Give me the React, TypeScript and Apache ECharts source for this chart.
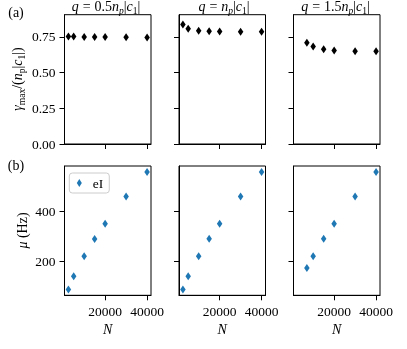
import React, { useEffect, useRef } from "react";
import * as echarts from "echarts";

// ---- data ----
const nA = [2500, 5000, 10000, 15000, 20000, 30000, 40000];
const nB = [2500, 5000, 10000, 15000, 20000, 30000, 40000];
const nC = [7000, 10000, 15000, 20000, 30000, 40000];

const gammaA = [0.752, 0.752, 0.749, 0.749, 0.749, 0.747, 0.746];
const gammaB = [0.837, 0.806, 0.792, 0.79, 0.788, 0.786, 0.785];
const gammaC = [0.708, 0.682, 0.663, 0.654, 0.649, 0.649];

const muA = [89, 141, 221, 289, 350, 458, 556];
const muB = [89, 141, 221, 290, 350, 458, 556];
const muC = [174, 221, 290, 350, 458, 556];

const xTicks = [20000, 40000];
const gammaTicks = [0, 0.25, 0.5, 0.75];
const muTicks = [200, 400];

const legendName = "eI";

const FONT = "Liberation Serif";
const FS = 13.5;
const FT = 14;

export default function App() {
  const ref = useRef<HTMLDivElement>(null);

  useEffect(() => {
    if (!ref.current) return;
    const chart = echarts.init(ref.current, null, { renderer: "svg" });

    const lefts = [64.5, 179, 293.5];
    const tops = [14.7, 166];
    const W = 86.5;
    const H = 129.3;

    const grids: any[] = [];
    const xAxes: any[] = [];
    const yAxes: any[] = [];
    const series: any[] = [];

    const topData = [
      [nA, gammaA],
      [nB, gammaB],
      [nC, gammaC],
    ];
    const botData = [
      [nA, muA],
      [nB, muB],
      [nC, muC],
    ];

    for (let r = 0; r < 2; r++) {
      for (let c = 0; c < 3; c++) {
        const i = r * 3 + c;
        grids.push({
          left: lefts[c],
          top: tops[r],
          width: W,
          height: H,
          show: true,
          borderColor: "#000",
          borderWidth: 1,
          containLabel: false,
        });
        xAxes.push({
          type: "value",
          gridIndex: i,
          min: 625,
          max: 41875,
          axisLine: { show: true, onZero: false, lineStyle: { color: "#000", width: 1 } },
          axisTick: { show: true, length: 5, customValues: xTicks, lineStyle: { color: "#000", width: 1 } },
          axisLabel: {
            show: r === 1,
            customValues: xTicks,
            margin: 9,
            fontFamily: FONT,
            fontSize: FS,
            color: "#000",
            formatter: (v: number) => String(v),
          },
          splitLine: { show: false },
        });
        const isTop = r === 0;
        yAxes.push({
          type: "value",
          gridIndex: i,
          min: isTop ? 0 : 65.6,
          max: isTop ? 0.905 : 579.4,
          axisLine: { show: true, onZero: false, lineStyle: { color: "#000", width: 1 } },
          axisTick: {
            show: true,
            length: 5,
            customValues: isTop ? gammaTicks : muTicks,
            lineStyle: { color: "#000", width: 1 },
          },
          axisLabel: {
            show: c === 0,
            customValues: isTop ? gammaTicks : muTicks,
            margin: 9,
            fontFamily: FONT,
            fontSize: FS,
            color: "#000",
            formatter: (v: number) => (isTop ? v.toFixed(2) : String(Math.round(v))),
          },
          splitLine: { show: false },
        });
        const d = isTop ? topData[c] : botData[c];
        const xs = d[0] as number[];
        const ys = d[1] as number[];
        series.push({
          type: "scatter",
          name: !isTop && c === 0 ? legendName : `s${i}`,
          xAxisIndex: i,
          yAxisIndex: i,
          symbol: "diamond",
          symbolSize: [5.5, 8],
          itemStyle: { color: isTop ? "#000" : "#1f77b4", opacity: 1 },
          data: xs.map((x, k) => [x, ys[k]]),
        });
      }
    }

    const base = { fontFamily: FONT, fontSize: FT, lineHeight: 18, fill: "#000" };
    const rich = {
      i: { fontFamily: FONT, fontSize: FT, fontStyle: "italic", lineHeight: 18, fill: "#000" },
      eq: { fontFamily: FONT, fontSize: FT, lineHeight: 18, fill: "#000", padding: [0, 4, 0, 4] },
      s: { fontFamily: FONT, fontSize: 9.5, lineHeight: 11, verticalAlign: "bottom", fill: "#000" },
      si: { fontFamily: FONT, fontSize: 9.5, fontStyle: "italic", lineHeight: 11, verticalAlign: "bottom", fill: "#000" },
    };

    const txt = (text: string, x: number, y: number, rotation = 0) => ({
      type: "text",
      x,
      y,
      rotation,
      style: { ...base, text, rich, align: "center", verticalAlign: "middle" },
    });

    const titles = [
      "{i|q}{eq|=}0.5{i|n}{si|p}|{i|c}{s|1}|",
      "{i|q}{eq|=}{i|n}{si|p}|{i|c}{s|1}|",
      "{i|q}{eq|=}1.5{i|n}{si|p}|{i|c}{s|1}|",
    ];

    const graphics: any[] = [
      txt("(a)", 16, 12),
      txt("(b)", 16, 165),
      txt("{i|γ}{s|max}/({i|n}{s|p}|{i|c}{s|1}|)", 17.5, 79, Math.PI / 2),
      txt("{i|μ} (Hz)", 22.5, 230.5, Math.PI / 2),
    ];
    const titleX = [106, 224, 335.5];
    for (let c = 0; c < 3; c++) {
      graphics.push(txt(titles[c], titleX[c], 6.5));
      graphics.push(txt("{i|N}", lefts[c] + W / 2, 329));
    }

    chart.setOption({
      animation: false,
      backgroundColor: "transparent",
      grid: grids,
      xAxis: xAxes,
      yAxis: yAxes,
      series,
      legend: {
        data: [{ name: legendName, icon: "diamond" }],
        left: 69.3,
        top: 173,
        orient: "vertical",
        itemWidth: 5,
        itemHeight: 8,
        padding: [3, 6, 3, 7.5],
        borderColor: "#cccccc",
        borderWidth: 1,
        borderRadius: 3,
        backgroundColor: "#fff",
        textStyle: { fontFamily: FONT, fontSize: FS, color: "#000", padding: [0, 0, 0, 6], lineHeight: 13 },
        selectedMode: false,
      },
      graphic: graphics,
    });

    return () => chart.dispose();
  }, []);

  return (
    <div
      ref={ref}
      style={{ position: "absolute", left: 0, top: 0, width: 407, height: 349, willChange: "transform" }}
    />
  );
}
